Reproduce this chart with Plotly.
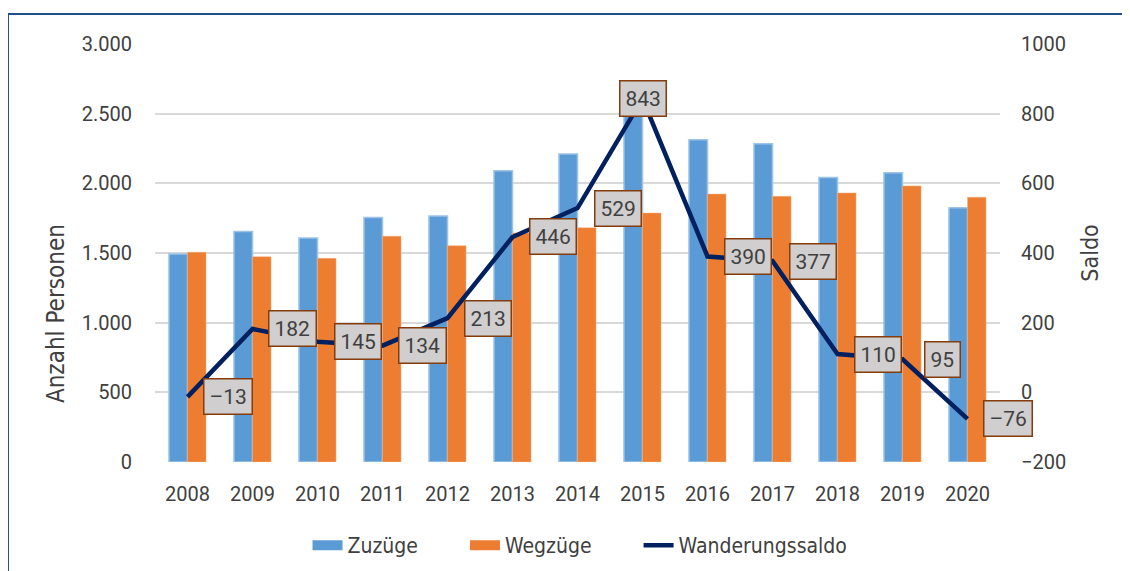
import plotly.graph_objects as go

years = ['2008', '2009', '2010', '2011', '2012', '2013', '2014',
         '2015', '2016', '2017', '2018', '2019', '2020']
zuzuege = [1492, 1655, 1607, 1755, 1765, 2090, 2210, 2630, 2313, 2284, 2041, 2076, 1824]
wegzuege = [1505, 1473, 1462, 1621, 1552, 1644, 1681, 1787, 1923, 1907, 1931, 1981, 1900]
saldo = [-13, 182, 145, 134, 213, 446, 529, 843, 390, 377, 110, 95, -76]

left_ticks = [0, 500, 1000, 1500, 2000, 2500, 3000]
left_tick_labels = ['0', '500', '1.000', '1.500', '2.000', '2.500', '3.000']
right_ticks = [-200, 0, 200, 400, 600, 800, 1000]

font_family = 'Roboto, Arial, sans-serif'
legend_font = '"Liberation Sans Narrow", "DejaVu Sans Condensed", Roboto, sans-serif'
text_color = '#404040'
blue = '#5B9BD5'
orange = '#ED7D31'
navy = '#002060'
pad = '\u00a0' * 7  # extra room between legend entries

fig = go.Figure()

fig.add_trace(go.Bar(
    x=years, y=zuzuege, name='Zuzüge', showlegend=False,
    marker=dict(color=blue, line=dict(color='#9DC3E6', width=1.5)),
))
fig.add_trace(go.Bar(
    x=years, y=wegzuege, name='Wegzüge', showlegend=False,
    marker=dict(color=orange, line=dict(color='#F4B183', width=0.5)),
))
# legend-only entries so the bar keys look like wide blocks as in Excel
fig.add_trace(go.Scatter(x=[None], y=[None], name='Zuzüge' + pad, mode='lines',
                         line=dict(color=blue, width=12)))
fig.add_trace(go.Scatter(x=[None], y=[None], name='Wegzüge' + pad, mode='lines',
                         line=dict(color=orange, width=12)))
fig.add_trace(go.Scatter(
    x=years, y=saldo, name='Wanderungssaldo', yaxis='y2',
    mode='lines', line=dict(color=navy, width=4.5),
))

# data labels for the saldo line (Excel style boxes, right of the point)
# category index is used for x, numeric-looking strings are read as indices
for i, val in enumerate(saldo):
    shift = 0 if val == max(saldo) else 40
    fig.add_annotation(
        x=i, y=val, xref='x', yref='y2',
        text=str(val).replace('-', '–'),
        showarrow=False, xshift=shift,
        font=dict(family=font_family, size=21, color=text_color),
        bgcolor='#D0CECE', bordercolor='#843C0C', borderwidth=1.5, borderpad=5,
    )

# left axis title sits lower than the plot centre in the original
fig.add_annotation(
    x=-0.136, y=0.354, xref='paper', yref='paper',
    text='Anzahl Personen', textangle=-90, showarrow=False,
    font=dict(family=legend_font, size=24, color=text_color),
)

fig.update_xaxes(
    type='category',
    range=[-0.5, len(years) - 0.5],
    showgrid=False,
    showline=False,
    automargin=False,
    tickfont=dict(family=font_family, size=20, color=text_color),
    ticklabelstandoff=18,
    ticks='',
)

fig.update_layout(
    yaxis=dict(
        range=[0, 3000],
        tickvals=left_ticks,
        ticktext=left_tick_labels,
        showgrid=True, gridcolor='#D9D9D9', gridwidth=1.5,
        zeroline=False,
        automargin=False,
        tickfont=dict(family=font_family, size=20, color=text_color),
        ticklabelstandoff=22,
    ),
    yaxis2=dict(
        range=[-200, 1000],
        tickvals=right_ticks,
        overlaying='y', side='right',
        showgrid=False, zeroline=False,
        automargin=False,
        tickfont=dict(family=font_family, size=20, color=text_color),
        ticklabelstandoff=20,
        title=dict(text='Saldo', standoff=16,
                   font=dict(family=legend_font, size=23, color=text_color)),
    ),
    barmode='group',
    bargap=0.43,
    bargroupgap=0.0,
    paper_bgcolor='rgb(255,255,255)',
    plot_bgcolor='rgb(255,255,255)',
    width=1122, height=563,
    margin=dict(l=147, r=130, t=36, b=109, autoexpand=False),
    showlegend=True,
    legend=dict(
        orientation='h', x=0.503, xanchor='center', y=-0.2, yanchor='middle',
        font=dict(family=legend_font, size=21, color=text_color),
        tracegroupgap=0,
    ),
    font=dict(family=font_family),
)

# frame lines at the top and left edge of the picture
fig.add_shape(type='line', xref='paper', yref='paper',
              x0=-0.174, x1=1.16, y0=1.0718, y1=1.0718,
              line=dict(color='#1F4E8C', width=2))
fig.add_shape(type='line', xref='paper', yref='paper',
              x0=-0.174, x1=-0.174, y0=1.0718, y1=-0.27,
              line=dict(color='#1F4E8C', width=2))

fig.write_html('out.html')
